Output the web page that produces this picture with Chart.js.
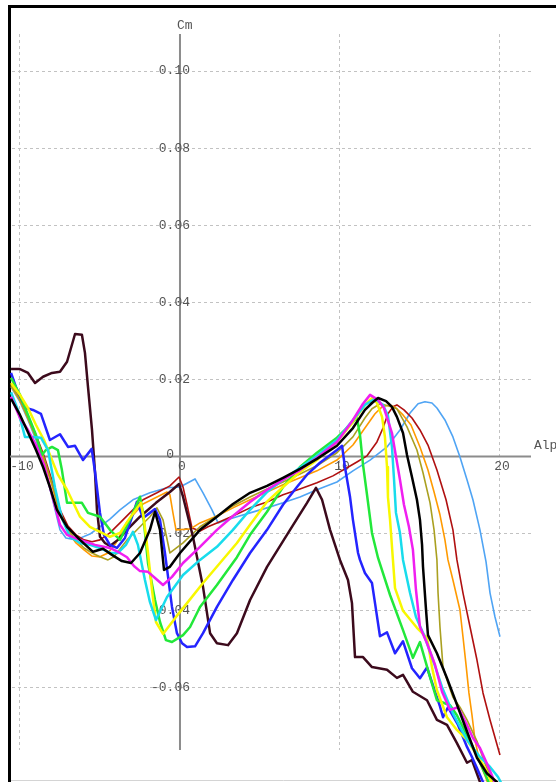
<!DOCTYPE html>
<html lang="en">
<head>
  <meta charset="UTF-8">
  <title>Cm vs Alpha</title>
  <style>
    html, body { margin: 0; padding: 0; background: #fff; }
    #wrap { width: 556px; height: 782px; overflow: hidden; }
  </style>
  <script src="https://cdn.jsdelivr.net/npm/chart.js@4"></script>
</head>
<body>
  <div id="wrap"><canvas id="cmChart" width="556" height="782"></canvas></div>

  <script>
    // axis ticks
    const xTicks = [-10, 0, 10, 20];
    const xTickLabels = ['-10', '0', '10', '20'];
    const yTicks = [-0.06, -0.04, -0.02, 0, 0.02, 0.04, 0.06, 0.08, 0.10];
    const yTickLabels = ['-0.06', '-0.04', '-0.02', '0', '0.02', '0.04', '0.06', '0.08', '0.10'];

    // polars, [alpha, Cm]
    const brown = [[-10.56,0.0227],[-10,0.0227],[-9.5,0.0217],[-9.06,0.0191],[-8.56,0.0207],[-8,0.0217],[-7.5,0.0220],[-7.06,0.0246],[-6.56,0.0318],[-6.13,0.0316],[-5.94,0.0269],[-5.75,0.0181],[-5.5,0.0069],[-5.31,-0.0042],[-5.19,-0.0138],[-5,-0.0208],[-4.69,-0.0224],[-4.38,-0.0232],[-3.88,-0.0216],[-3.31,-0.0190],[-2.5,-0.0156],[-1.5,-0.0120],[-0.63,-0.0092],[-0.06,-0.0071],[0.19,-0.0104],[0.81,-0.0208],[1.44,-0.0338],[1.88,-0.0458],[2.31,-0.0484],[3,-0.0489],[3.56,-0.0458],[4.38,-0.0372],[5.44,-0.0286],[6.88,-0.0190],[7.94,-0.0120],[8.5,-0.0081],[8.88,-0.0112],[9.38,-0.0190],[10,-0.0268],[10.5,-0.0320],[10.75,-0.0380],[10.94,-0.0520],[11.44,-0.0520],[12,-0.0546],[12.94,-0.0553],[13.56,-0.0574],[13.94,-0.0566],[14.56,-0.0610],[15.44,-0.0632],[16.06,-0.0683],[16.69,-0.0696],[17.31,-0.0743],[17.94,-0.0794],[18.25,-0.0787],[18.75,-0.0844],[19.1,-0.0878]];
    const blue = [[-10.56,0.0217],[-10.19,0.0173],[-9.63,0.0126],[-9.19,0.0121],[-8.69,0.0111],[-8.13,0.0043],[-7.5,0.0058],[-7,0.0025],[-6.56,0.0028],[-6.06,-0.0009],[-5.52,0.0020],[-5.31,-0.0040],[-5,-0.0146],[-4.75,-0.0203],[-4.38,-0.0229],[-3.94,-0.0237],[-3.44,-0.0211],[-3.06,-0.0164],[-2.69,-0.0117],[-2.31,-0.0159],[-1.88,-0.0146],[-1.56,-0.0136],[-1.25,-0.0164],[-0.94,-0.0250],[-0.5,-0.0390],[-0.19,-0.0458],[0.13,-0.0484],[0.44,-0.0494],[0.94,-0.0492],[1.44,-0.0458],[2.31,-0.0390],[3.31,-0.0320],[4.38,-0.0250],[5.44,-0.0190],[6.44,-0.0125],[7.31,-0.0079],[7.94,-0.0047],[8.75,-0.0016],[9.81,0.0017],[10.13,0.0028],[10.31,-0.0027],[10.63,-0.0105],[10.81,-0.0164],[11.13,-0.0250],[11.25,-0.0268],[11.56,-0.0302],[12,-0.0328],[12.19,-0.0380],[12.5,-0.0466],[12.94,-0.0456],[13.44,-0.0510],[13.94,-0.0479],[14.5,-0.0549],[15,-0.0575],[15.44,-0.0547],[16.25,-0.0648],[16.44,-0.0676],[16.75,-0.0650],[17.38,-0.0696],[17.94,-0.0753],[18.25,-0.0779],[18.56,-0.0808],[18.94,-0.0844],[19.25,-0.0878]];
    const green = [[-10.56,0.0204],[-10,0.0160],[-9.5,0.0108],[-9,0.0056],[-8.63,0.0004],[-8.38,0.0017],[-8,0.0025],[-7.63,0.0017],[-7.38,-0.0035],[-7.06,-0.0120],[-6.13,-0.0120],[-5.75,-0.0146],[-5,-0.0156],[-4.38,-0.0190],[-3.75,-0.0216],[-3.13,-0.0164],[-2.5,-0.0104],[-2.31,-0.0146],[-2,-0.0276],[-1.56,-0.0372],[-1.25,-0.0429],[-0.88,-0.0476],[-0.5,-0.0481],[0.19,-0.0463],[0.63,-0.0442],[1.25,-0.0390],[2.31,-0.0333],[3.56,-0.0261],[4.38,-0.0203],[5.44,-0.0143],[6.44,-0.0079],[7.5,-0.0027],[8.56,0.0010],[9.81,0.0049],[10.63,0.0082],[11.06,0.0100],[11.25,0.0056],[11.44,-0.0021],[11.69,-0.0099],[12,-0.0198],[12.38,-0.0263],[13.13,-0.0359],[13.94,-0.0450],[14.56,-0.0522],[15,-0.0481],[15.63,-0.0572],[16.06,-0.0632],[16.88,-0.0645],[17.31,-0.0671],[17.94,-0.0723],[18.56,-0.0775],[19.19,-0.0834],[19.5,-0.0865]];
    const yellow = [[-10.56,0.0191],[-10,0.0160],[-9.5,0.0126],[-9,0.0082],[-8.5,0.0043],[-8,-0.0009],[-7.63,-0.0047],[-7.06,-0.0086],[-6.25,-0.0156],[-5.63,-0.0182],[-5,-0.0195],[-4.38,-0.0208],[-3.75,-0.0198],[-3.13,-0.0159],[-2.44,-0.0120],[-2.25,-0.0164],[-2,-0.0250],[-1.75,-0.0346],[-1.5,-0.0429],[-1.06,-0.0460],[-0.31,-0.0419],[0.44,-0.0380],[1.44,-0.0328],[2.5,-0.0276],[3.56,-0.0224],[4.38,-0.0177],[5.44,-0.0117],[6.44,-0.0079],[7.5,-0.0040],[8.56,-0.0009],[9.81,0.0038],[10.81,0.0090],[11.56,0.0134],[12,0.0152],[12.31,0.0139],[12.63,0.0103],[12.81,0.0051],[12.94,-0.0027],[13,-0.0105],[13.13,-0.0164],[13.31,-0.0268],[13.44,-0.0341],[13.94,-0.0400],[14.81,-0.0444],[15.44,-0.0470],[15.75,-0.0546],[16.06,-0.0606],[16.69,-0.0676],[17.31,-0.0709],[17.94,-0.0735],[18.75,-0.0785],[19.19,-0.0818],[19.69,-0.0865]];
    const cyan = [[-10.56,0.0167],[-10.13,0.0121],[-9.69,0.0051],[-9.19,0.0051],[-8.69,0.0049],[-8.25,0.0017],[-7.81,-0.0081],[-7.38,-0.0160],[-6.88,-0.0208],[-6.25,-0.0224],[-5.63,-0.0229],[-5,-0.0237],[-4.38,-0.0250],[-3.88,-0.0250],[-3.38,-0.0229],[-2.94,-0.0195],[-2.63,-0.0229],[-2.19,-0.0320],[-1.88,-0.0377],[-1.5,-0.0424],[-0.81,-0.0364],[0.19,-0.0307],[1.25,-0.0268],[2.31,-0.0234],[3.31,-0.0190],[4.38,-0.0138],[5.44,-0.0092],[6.44,-0.0060],[7.5,-0.0029],[8.56,0.0002],[9.81,0.0043],[10.81,0.0095],[11.56,0.0134],[12.19,0.0150],[12.69,0.0134],[13,0.0106],[13.25,0.0025],[13.38,-0.0060],[13.5,-0.0146],[13.75,-0.0198],[13.94,-0.0268],[14.38,-0.0354],[14.75,-0.0416],[15.25,-0.0463],[15.81,-0.0527],[16.38,-0.0598],[17.06,-0.0666],[17.94,-0.0735],[18.75,-0.0779],[19.38,-0.0805],[19.88,-0.0831],[20.31,-0.0865]];
    const magenta = [[-10.56,0.0155],[-10,0.0100],[-9.5,0.0069],[-9,0.0030],[-8.5,-0.0021],[-8,-0.0099],[-7.5,-0.0177],[-7.06,-0.0203],[-6.25,-0.0216],[-5.31,-0.0229],[-4.38,-0.0237],[-3.75,-0.0250],[-3.31,-0.0261],[-2.88,-0.0284],[-2.5,-0.0297],[-2,-0.0299],[-1.56,-0.0315],[-1.06,-0.0333],[-0.5,-0.0312],[0.19,-0.0276],[1.25,-0.0234],[2.31,-0.0190],[3.31,-0.0154],[4.38,-0.0118],[5.44,-0.0086],[6.44,-0.0060],[7.5,-0.0035],[8.56,-0.0003],[9.81,0.0038],[10.81,0.0095],[11.44,0.0137],[11.88,0.0160],[12.38,0.0147],[12.75,0.0126],[13.25,0.0061],[13.5,0.0000],[13.75,-0.0060],[14,-0.0125],[14.31,-0.0182],[14.56,-0.0242],[14.75,-0.0346],[15,-0.0442],[15.44,-0.0484],[15.94,-0.0540],[16.38,-0.0610],[16.88,-0.0657],[17.38,-0.0650],[17.94,-0.0696],[18.31,-0.0730],[18.75,-0.0756],[19.19,-0.0797],[19.56,-0.0833],[19.88,-0.0865]];
    const black = [[-10.56,0.0150],[-10,0.0108],[-9.5,0.0063],[-9,0.0017],[-8.56,-0.0027],[-8.13,-0.0079],[-7.69,-0.0138],[-7.06,-0.0182],[-6.25,-0.0216],[-5.44,-0.0247],[-4.81,-0.0239],[-4.25,-0.0255],[-3.63,-0.0271],[-3.06,-0.0276],[-2.5,-0.0250],[-1.88,-0.0190],[-1.56,-0.0143],[-1.25,-0.0190],[-1,-0.0294],[-0.63,-0.0286],[0,-0.0250],[1.25,-0.0190],[2.31,-0.0156],[3.31,-0.0123],[4.38,-0.0094],[5.44,-0.0076],[6.44,-0.0055],[7.5,-0.0032],[8.56,-0.0006],[9.81,0.0028],[10.81,0.0074],[11.56,0.0121],[12,0.0139],[12.38,0.0152],[12.88,0.0144],[13.25,0.0129],[13.56,0.0103],[13.94,0.0061],[14.19,0.0004],[14.5,-0.0053],[14.81,-0.0112],[15,-0.0164],[15.13,-0.0229],[15.19,-0.0286],[15.38,-0.0398],[15.5,-0.0463],[16.06,-0.0510],[16.69,-0.0575],[17.31,-0.0643],[17.94,-0.0713],[18.56,-0.0781],[19.19,-0.0822],[19.81,-0.0844],[20.31,-0.0870]];
    const olive = [[-10.56,0.0186],[-10,0.0147],[-9.5,0.0100],[-9,0.0051],[-8.5,-0.0003],[-8,-0.0070],[-7.5,-0.0143],[-7,-0.0190],[-6.5,-0.0216],[-6,-0.0237],[-5.5,-0.0250],[-5,-0.0260],[-4.5,-0.0268],[-4.13,-0.0260],[-3.31,-0.0216],[-2.5,-0.0182],[-1.88,-0.0156],[-1.44,-0.0133],[-1.06,-0.0164],[-0.63,-0.0250],[0.19,-0.0224],[1.25,-0.0182],[2.31,-0.0154],[3.31,-0.0128],[4.38,-0.0105],[5.44,-0.0084],[6.44,-0.0066],[7.5,-0.0045],[8.56,-0.0024],[9.81,0.0010],[10.81,0.0051],[11.56,0.0100],[12,0.0124],[12.5,0.0137],[13,0.0132],[13.56,0.0124],[14.19,0.0077],[14.81,0.0017],[15.19,-0.0042],[15.63,-0.0120],[15.88,-0.0190],[16.06,-0.0268],[16.13,-0.0354],[16.25,-0.0442],[16.44,-0.0546],[16.75,-0.0587],[17.06,-0.0624],[17.5,-0.0650],[17.94,-0.0683],[18.56,-0.0738],[19.06,-0.0795],[19.5,-0.0839],[19.81,-0.0870]];
    const orange = [[-10.56,0.0183],[-10,0.0145],[-9.5,0.0098],[-9,0.0049],[-8.5,-0.0009],[-8,-0.0075],[-7.5,-0.0150],[-7,-0.0195],[-6.5,-0.0224],[-6,-0.0242],[-5.5,-0.0258],[-5,-0.0260],[-4.5,-0.0250],[-4,-0.0224],[-3.31,-0.0169],[-2.31,-0.0123],[-1.44,-0.0105],[-0.81,-0.0092],[-0.63,-0.0099],[-0.44,-0.0146],[-0.25,-0.0190],[0.63,-0.0188],[1.25,-0.0172],[2.31,-0.0154],[3.31,-0.0133],[4.38,-0.0112],[5.44,-0.0092],[6.44,-0.0073],[7.5,-0.0055],[8.56,-0.0037],[9.81,-0.0009],[10.81,0.0030],[11.56,0.0074],[12.19,0.0111],[12.63,0.0129],[13.13,0.0134],[13.5,0.0126],[13.94,0.0108],[14.44,0.0082],[15,0.0025],[15.5,-0.0035],[15.88,-0.0092],[16.25,-0.0151],[16.56,-0.0216],[16.75,-0.0268],[17.06,-0.0320],[17.5,-0.0398],[17.69,-0.0468],[17.88,-0.0540],[18.06,-0.0613],[18.25,-0.0670],[18.44,-0.0735],[18.75,-0.0795],[19.13,-0.0834],[19.38,-0.0865]];
    const darkRed = [[-10.56,0.0189],[-10,0.0150],[-9.5,0.0106],[-9,0.0056],[-8.5,0.0002],[-8,-0.0062],[-7.5,-0.0138],[-7,-0.0180],[-6.5,-0.0203],[-6,-0.0216],[-5.5,-0.0221],[-5,-0.0216],[-4.38,-0.0198],[-3.75,-0.0172],[-3.13,-0.0146],[-2.31,-0.0112],[-1.44,-0.0094],[-0.63,-0.0076],[-0.06,-0.0053],[0.19,-0.0079],[0.44,-0.0125],[0.75,-0.0185],[1.25,-0.0193],[1.75,-0.0182],[2.31,-0.0172],[3.31,-0.0154],[4.38,-0.0133],[5.44,-0.0118],[6.44,-0.0099],[7.5,-0.0084],[8.56,-0.0068],[9.56,-0.0050],[10.44,-0.0029],[11.06,-0.0014],[11.69,0.0002],[12.31,0.0038],[12.69,0.0074],[13,0.0111],[13.31,0.0129],[13.56,0.0134],[14,0.0121],[14.5,0.0100],[15,0.0069],[15.5,0.0030],[16.06,-0.0035],[16.63,-0.0112],[17.06,-0.0190],[17.31,-0.0268],[17.69,-0.0354],[18.13,-0.0442],[18.56,-0.0527],[18.94,-0.0613],[19.38,-0.0683],[20,-0.0774]];
    const lightBlue = [[-10.56,0.0181],[-10,0.0142],[-9.5,0.0095],[-9,0.0043],[-8.5,-0.0021],[-8,-0.0105],[-7.5,-0.0190],[-7.13,-0.0211],[-6.5,-0.0216],[-5.63,-0.0201],[-5,-0.0182],[-4.38,-0.0162],[-3.75,-0.0138],[-2.94,-0.0112],[-1.88,-0.0094],[-0.81,-0.0081],[0,-0.0079],[0.94,-0.0058],[1.44,-0.0094],[2,-0.0138],[2.38,-0.0172],[2.94,-0.0164],[3.56,-0.0156],[4.38,-0.0146],[5.44,-0.0133],[6.44,-0.0120],[7.5,-0.0105],[8.56,-0.0086],[9.81,-0.0066],[10.81,-0.0037],[11.88,-0.0009],[12.94,0.0025],[13.75,0.0069],[14.38,0.0113],[14.88,0.0137],[15.31,0.0142],[15.75,0.0139],[16.06,0.0126],[16.56,0.0095],[17.06,0.0051],[17.5,-0.0001],[17.94,-0.0060],[18.31,-0.0112],[18.75,-0.0190],[19.13,-0.0273],[19.38,-0.0354],[19.69,-0.0416],[20,-0.0467]];

    // first in the list is drawn on top
    const curves = [
      { data: black,     color: '#000000', width: 2.5 },
      { data: magenta,   color: '#f01ef0', width: 2.5 },
      { data: cyan,      color: '#18dcec', width: 2.5 },
      { data: yellow,    color: '#f8f800', width: 2.5 },
      { data: green,     color: '#22e83a', width: 2.5 },
      { data: blue,      color: '#2424ff', width: 2.5 },
      { data: brown,     color: '#3c0a1c', width: 2.5 },
      { data: olive,     color: '#aaa020', width: 1.6 },
      { data: orange,    color: '#ff9a00', width: 1.6 },
      { data: darkRed,   color: '#b01010', width: 1.6 },
      { data: lightBlue, color: '#4fa4f4', width: 1.6 }
    ];

    const LABEL_FONT = '13px "Liberation Mono", "DejaVu Sans Mono", monospace';

    // frame, axis lines through the origin and their labels
    const axesPlugin = {
      id: 'originAxes',
      beforeDraw(chart) {
        const ctx = chart.ctx;
        ctx.save();
        ctx.fillStyle = '#fff';
        ctx.fillRect(0, 0, chart.width, chart.height);
        ctx.strokeStyle = '#000';
        ctx.lineWidth = 3;
        ctx.beginPath();
        ctx.moveTo(9.5, chart.height);
        ctx.lineTo(9.5, 6.5);
        ctx.lineTo(chart.width, 6.5);
        ctx.stroke();
        ctx.strokeStyle = '#d4d4d4';
        ctx.lineWidth = 1;
        ctx.beginPath();
        ctx.moveTo(11, chart.height - 1.5);
        ctx.lineTo(chart.width, chart.height - 1.5);
        ctx.stroke();
        ctx.restore();
      },
      beforeDatasetsDraw(chart) {
        const { ctx, chartArea, scales: { x, y } } = chart;
        const x0 = x.getPixelForValue(0);
        const y0 = y.getPixelForValue(0);
        ctx.save();
        ctx.strokeStyle = '#8c8c8c';
        ctx.lineWidth = 2;
        ctx.beginPath();
        ctx.moveTo(x0, chartArea.top);
        ctx.lineTo(x0, chartArea.bottom);
        ctx.moveTo(chartArea.left - 2, y0);
        ctx.lineTo(chartArea.right, y0);
        ctx.stroke();

        ctx.font = LABEL_FONT;
        ctx.fillStyle = '#555';
        ctx.textBaseline = 'middle';
        ctx.textAlign = 'right';
        yTicks.forEach((v, i) => {
          if (v === 0) {
            ctx.fillText(yTickLabels[i], x0 - 6, y0 - 2);
          } else {
            ctx.fillText(yTickLabels[i], x0 + 10, y.getPixelForValue(v));
          }
        });
        ctx.textAlign = 'center';
        xTicks.forEach((v, i) => {
          ctx.fillText(xTickLabels[i], x.getPixelForValue(v) + 2, y0 + 10);
        });
        ctx.textAlign = 'left';
        ctx.fillText('Cm', x0 - 3, chartArea.top - 8);
        ctx.fillText('Alpha', chartArea.right + 3, y0 - 11);
        ctx.restore();
      }
    };

    const gridOpts = { color: '#c2c2c2', lineWidth: 1, drawTicks: false };

    new Chart(document.getElementById('cmChart'), {
      type: 'line',
      data: {
        datasets: curves.map(c => ({
          data: c.data.map(([a, cm]) => ({ x: a, y: cm })),
          borderColor: c.color,
          borderWidth: c.width,
          borderJoinStyle: 'round',
          pointRadius: 0,
          fill: false,
          tension: 0,
          clip: false
        }))
      },
      options: {
        responsive: false,
        animation: false,
        events: [],
        layout: { padding: { left: 12, right: 25, top: 34, bottom: 32 } },
        plugins: { legend: { display: false }, tooltip: { enabled: false } },
        scales: {
          x: {
            type: 'linear',
            min: -10.5,
            max: 21.94,
            afterBuildTicks: s => { s.ticks = xTicks.map(v => ({ value: v })); },
            ticks: { display: false },
            grid: gridOpts,
            border: { display: false, dash: [3, 3] }
          },
          y: {
            type: 'linear',
            min: -0.0761,
            max: 0.1096,
            afterBuildTicks: s => { s.ticks = yTicks.map(v => ({ value: v })); },
            ticks: { display: false },
            grid: gridOpts,
            border: { display: false, dash: [3, 3] }
          }
        }
      },
      plugins: [axesPlugin]
    });
  </script>
</body>
</html>
